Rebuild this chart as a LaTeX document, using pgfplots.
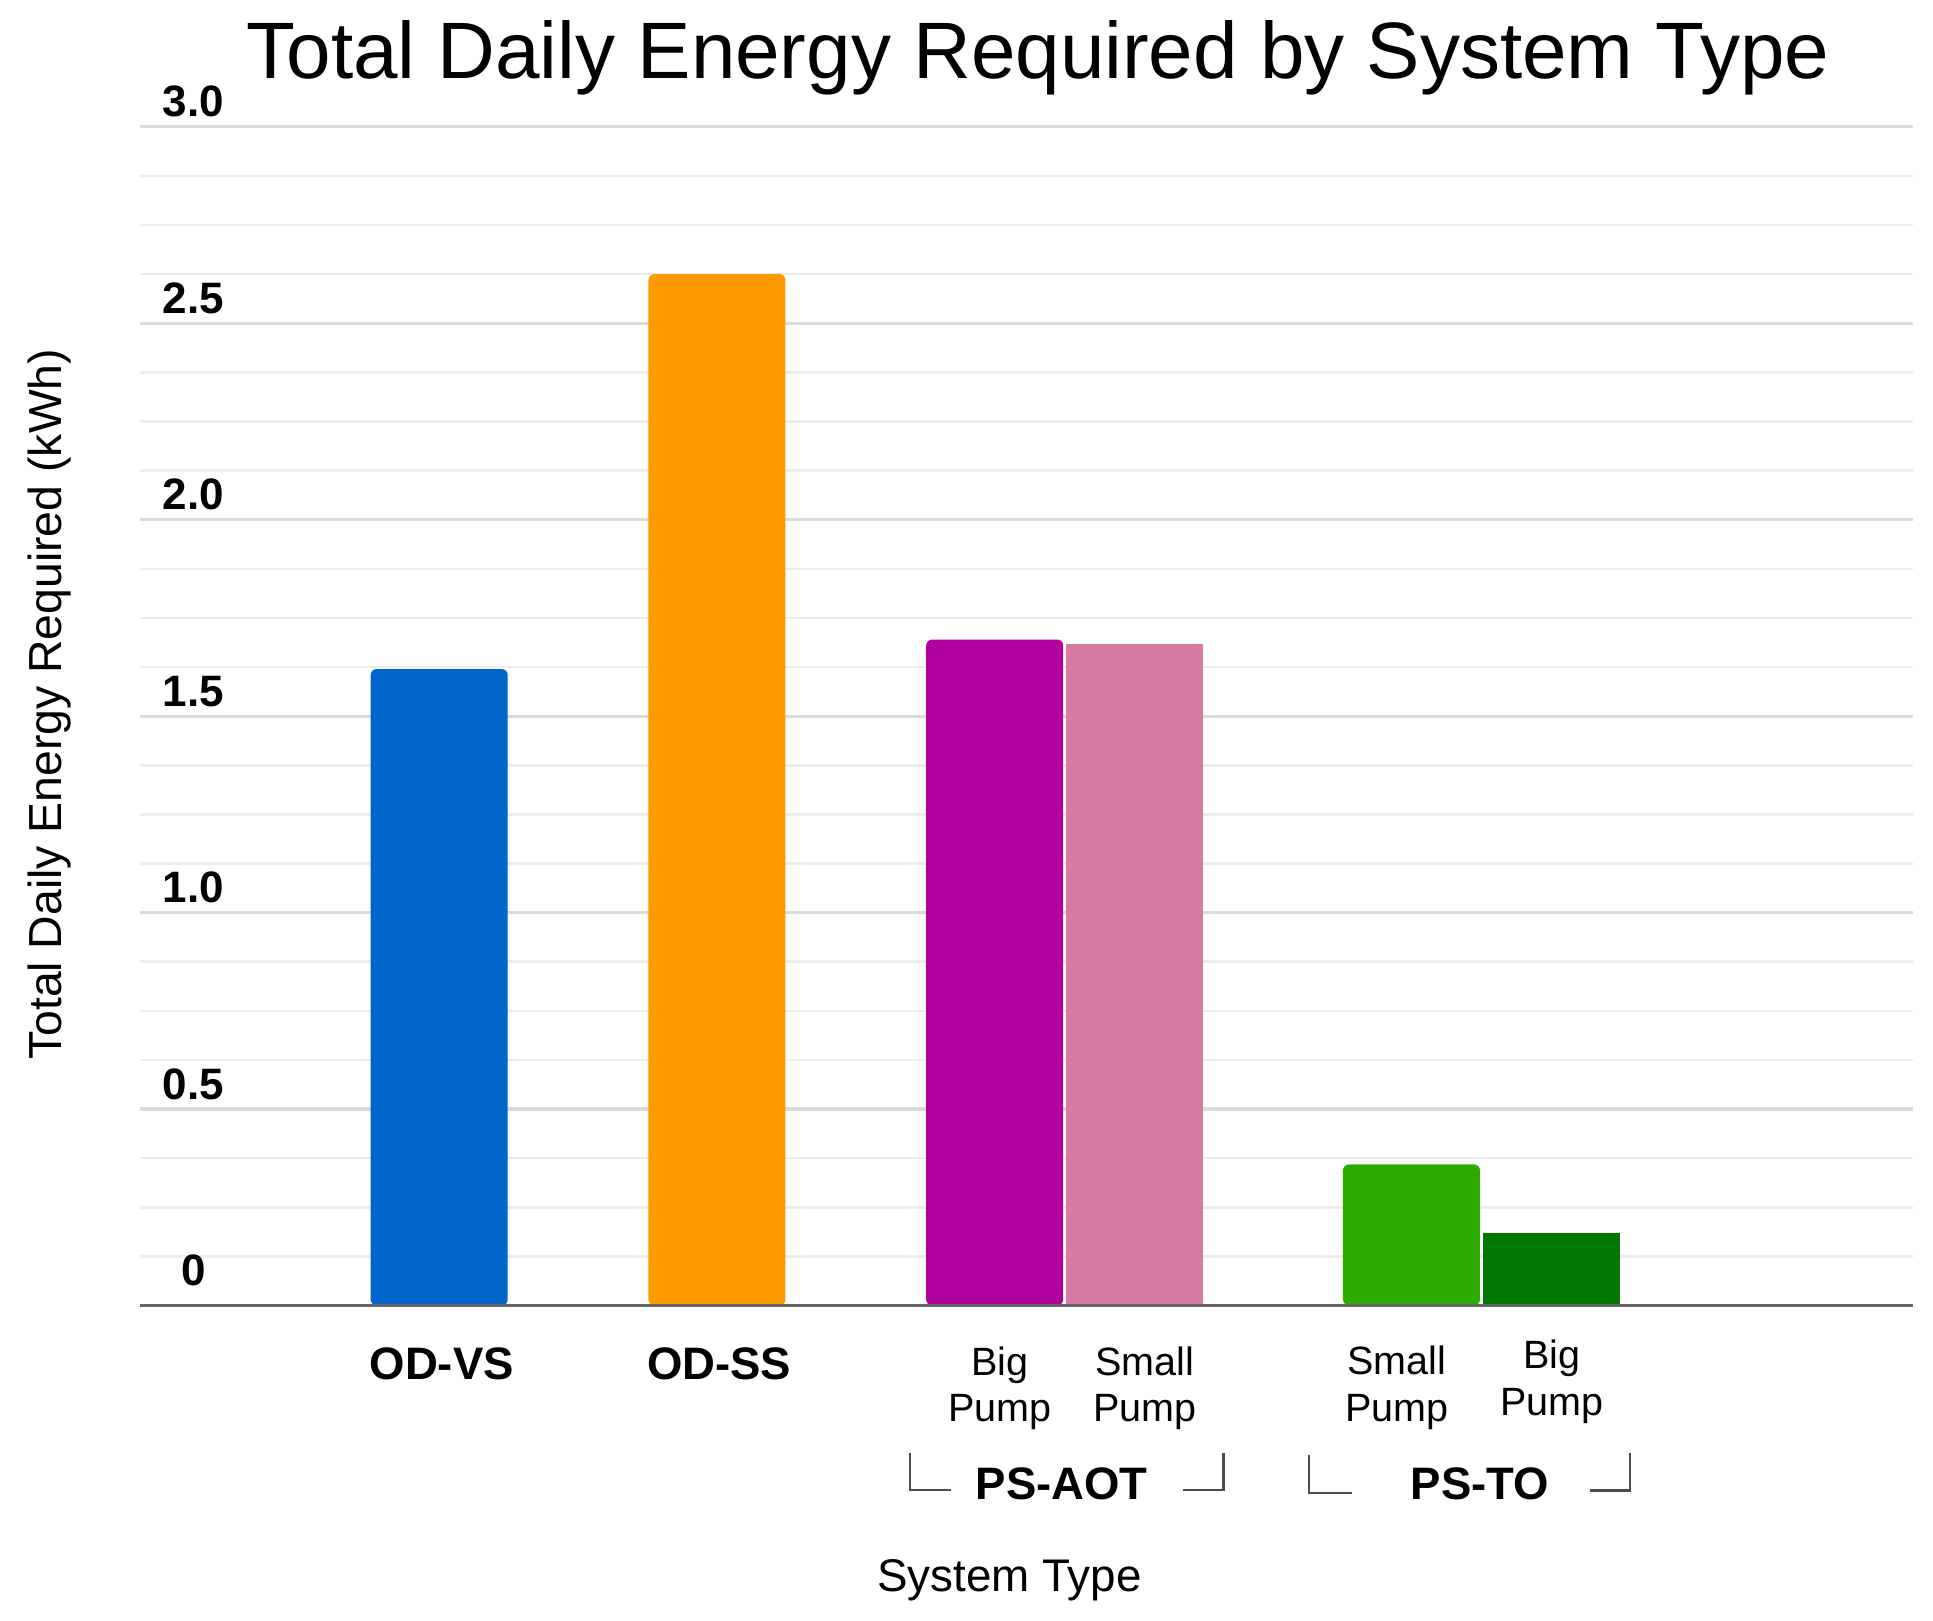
\documentclass[border=0pt]{standalone}
\usepackage{fontspec}
\setmainfont{Liberation Sans}
\usepackage{pgfplots}
\pgfplotsset{compat=1.18}
\definecolor{cblue}{HTML}{0066CC}
\definecolor{corange}{HTML}{FF9900}
\definecolor{cpurple}{HTML}{B0009E}
\definecolor{cpink}{HTML}{D77BA5}
\definecolor{cgreen}{HTML}{2CAB00}
\definecolor{cdgreen}{HTML}{007800}
\begin{document}
\begin{tikzpicture}
\begin{axis}[
  at={(0,0)}, anchor=south west,
  scale only axis,
  width=354.6pt, height=235.74pt,
  xmin=1.40, xmax=19.13, ymin=0, ymax=3,
  xtick=\empty,
  ytick={0,0.5,1,1.5,2,2.5,3},
  yticklabels={\raisebox{2pt}{0},0.5,1.0,1.5,2.0,2.5,3.0},
  minor y tick num=3,
  ymajorgrids, yminorgrids,
  major grid style={draw=black!14, line width=0.65pt},
  minor grid style={draw=black!7, line width=0.5pt},
  major tick length=0pt, minor tick length=0pt,
  axis line style={draw=none},
  yticklabel style={anchor=south, inner sep=0pt, xshift=10.7pt, yshift=1.7pt,
    font=\fontsize{8.8}{10}\selectfont\bfseries},
  clip=false,
  every axis title shift=0pt,
  title={Total Daily Energy Required by System Type},
  title style={at={(axis cs:10.38,3.124)}, anchor=base, inner sep=0pt, yshift=0pt,
    font=\fontsize{16}{19}\selectfont},
  xlabel={System Type},
  xlabel style={at={(axis cs:10.095,-0.7284)}, anchor=base, inner sep=0pt,
    font=\fontsize{9.15}{11}\selectfont},
  ylabel={Total Daily Energy Required (kWh)},
  ylabel style={at={(axis cs:0.50,1.53)}, anchor=center, inner sep=0pt,
    font=\fontsize{9.27}{11}\selectfont},
]
\addplot[ybar, bar width=1.37, bar shift=0pt, fill=cblue, draw=none, rounded corners=1.2pt] coordinates {(4.392,1.62)};
\addplot[ybar, bar width=1.37, bar shift=0pt, fill=corange, draw=none, rounded corners=1.2pt] coordinates {(7.17,2.625)};
\addplot[ybar, bar width=1.37, bar shift=0pt, fill=cpurple, draw=none, rounded corners=1.2pt] coordinates {(9.947,1.695)};
\addplot[ybar, bar width=1.37, bar shift=0pt, fill=cpink, draw=none] coordinates {(11.345,1.683)};
\addplot[ybar, bar width=1.37, bar shift=0pt, fill=cgreen, draw=none, rounded corners=1.2pt] coordinates {(14.115,0.359)};
\addplot[ybar, bar width=1.37, bar shift=0pt, fill=cdgreen, draw=none] coordinates {(15.515,0.184)};

\draw[black!60, line width=0.65pt] (axis cs:1.40,0) -- (axis cs:19.13,0);

\tikzset{bl/.style={anchor=base, inner sep=0pt, font=\fontsize{9.1}{11}\selectfont\bfseries},
         sl/.style={anchor=base, inner sep=0pt, font=\fontsize{7.9}{9.5}\selectfont}}
\node[bl] at (axis cs:4.417,-0.1896) {OD-VS};
\node[bl] at (axis cs:7.193,-0.1896) {OD-SS};
\node[sl] at (axis cs:10.00,-0.178) {Big};
\node[sl] at (axis cs:10.00,-0.2957) {Pump};
\node[sl] at (axis cs:11.45,-0.178) {Small};
\node[sl] at (axis cs:11.45,-0.2957) {Pump};
\node[sl] at (axis cs:13.97,-0.175) {Small};
\node[sl] at (axis cs:13.97,-0.294) {Pump};
\node[sl] at (axis cs:15.52,-0.160) {Big};
\node[sl] at (axis cs:15.52,-0.2787) {Pump};
\node[bl] at (axis cs:10.617,-0.495) {PS-AOT};
\node[bl] at (axis cs:14.80,-0.495) {PS-TO};

\draw[black!70, line width=0.5pt] (axis cs:9.507,-0.4696) -- (axis cs:9.10,-0.4696) -- (axis cs:9.10,-0.3754);
\draw[black!70, line width=0.5pt] (axis cs:11.827,-0.4696) -- (axis cs:12.233,-0.4696) -- (axis cs:12.233,-0.3754);
\draw[black!70, line width=0.5pt] (axis cs:13.52,-0.477) -- (axis cs:13.09,-0.477) -- (axis cs:13.09,-0.3805);
\draw[black!70, line width=0.5pt] (axis cs:15.90,-0.4714) -- (axis cs:16.30,-0.4714) -- (axis cs:16.30,-0.3754);

\coordinate (bbl) at (axis cs:0,-0.803);
\coordinate (btr) at (axis cs:19.33,3.3228);
\end{axis}
\pgfresetboundingbox
\path (bbl) rectangle (btr);
\end{tikzpicture}
\end{document}
